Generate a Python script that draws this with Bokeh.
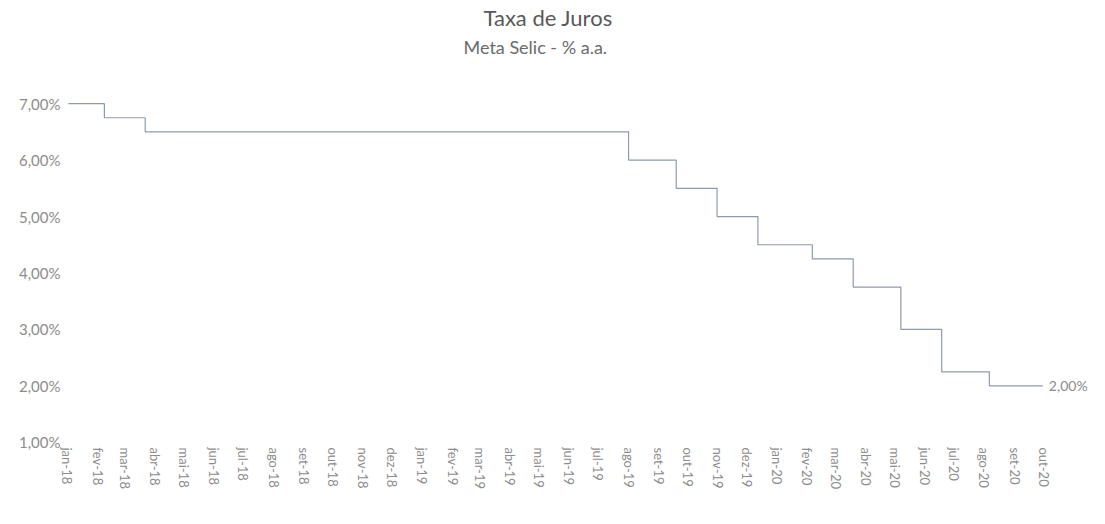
from datetime import datetime, timedelta
from bokeh.plotting import figure
from bokeh.models import Range1d, FixedTicker, CustomJSTickFormatter, Title
from bokeh.core.properties import value
from bokeh.embed import file_html
from bokeh.resources import INLINE

# --- data: Meta Selic (% a.a.), change dates and rates ---
change_dates = ["2018-01-02", "2018-02-08", "2018-03-22", "2019-08-01", "2019-09-19",
                "2019-10-31", "2019-12-12", "2020-02-06", "2020-03-19", "2020-05-07",
                "2020-06-18", "2020-08-06"]
rates = [7.00, 6.75, 6.50, 6.00, 5.50, 5.00, 4.50, 4.25, 3.75, 3.00, 2.25, 2.00]
end_date = "2020-09-30"
end_label = "2,00%"
month_names = ["jan", "fev", "mar", "abr", "mai", "jun", "jul", "ago", "set", "out", "nov", "dez"]
first_month = "2018-01-01"
last_month = "2020-10-01"
y_ticks = [1, 2, 3, 4, 5, 6, 7]

xs = [datetime.fromisoformat(d) for d in change_dates] + [datetime.fromisoformat(end_date)]
ys = rates + [rates[-1]]

# month ticks
ticks = []
d = datetime.fromisoformat(first_month)
lm = datetime.fromisoformat(last_month)
while d <= lm:
    ticks.append(d.timestamp() * 1000)
    d = datetime(d.year + (d.month // 12), d.month % 12 + 1, 1)

x0 = datetime.fromisoformat(first_month) - timedelta(days=3)
x1 = datetime.fromisoformat(last_month) + timedelta(days=48)

FONT = "Lato"
GREY = "#8c8c8c"

p = figure(width=1090, height=492, output_backend="svg", toolbar_location=None,
           x_axis_type="datetime",
           x_range=Range1d(x0, x1), y_range=Range1d(0.98, 7.02),
           min_border_left=64, min_border_right=0, min_border_top=10, min_border_bottom=0)

# spacer between subtitle and plot area
p.add_layout(Title(text=" ", text_font_size="37px", standoff=0), "above")
p.add_layout(Title(text="Meta Selic - % a.a.", align="left", offset=399, text_font=FONT,
                   text_font_size="18px", text_font_style="normal", text_color="#6b6b6b",
                   standoff=4), "above")
p.add_layout(Title(text="Taxa de Juros", align="left", offset=419, text_font=FONT,
                   text_font_size="22px", text_font_style="normal", text_color="#595959",
                   standoff=2), "above")

p.step(xs, ys, mode="after", line_color="#8f99b0", line_width=1.2)
p.text(x=[xs[-1]], y=[ys[-1]], text=[end_label], x_offset=6, text_baseline="middle",
       text_font=value(FONT), text_font_size="14px", text_color=GREY)

p.outline_line_color = None
p.xgrid.grid_line_color = None
p.ygrid.grid_line_color = None

p.xaxis.ticker = FixedTicker(ticks=ticks)
p.xaxis.formatter = CustomJSTickFormatter(args=dict(names=month_names), code="""
const d = new Date(tick);
return names[d.getUTCMonth()] + "-" + String(d.getUTCFullYear()).slice(2);
""")
p.xaxis.major_label_orientation = "vertical"

p.yaxis.ticker = FixedTicker(ticks=y_ticks)
p.yaxis.formatter = CustomJSTickFormatter(code="""
return tick.toFixed(2).replace('.', ',') + '%';
""")

for ax in (p.xaxis, p.yaxis):
    ax.axis_line_color = None
    ax.major_tick_line_color = None
    ax.minor_tick_line_color = None
    ax.major_tick_out = 0
    ax.major_tick_in = 0
    ax.minor_tick_out = 0
    ax.minor_tick_in = 0
    ax.major_label_text_font = FONT
    ax.major_label_text_color = GREY
    ax.major_label_standoff = 4
p.xaxis.major_label_text_font_size = "13px"
p.yaxis.major_label_text_font_size = "15px"

open("out.html", "w").write(file_html(p, INLINE))
